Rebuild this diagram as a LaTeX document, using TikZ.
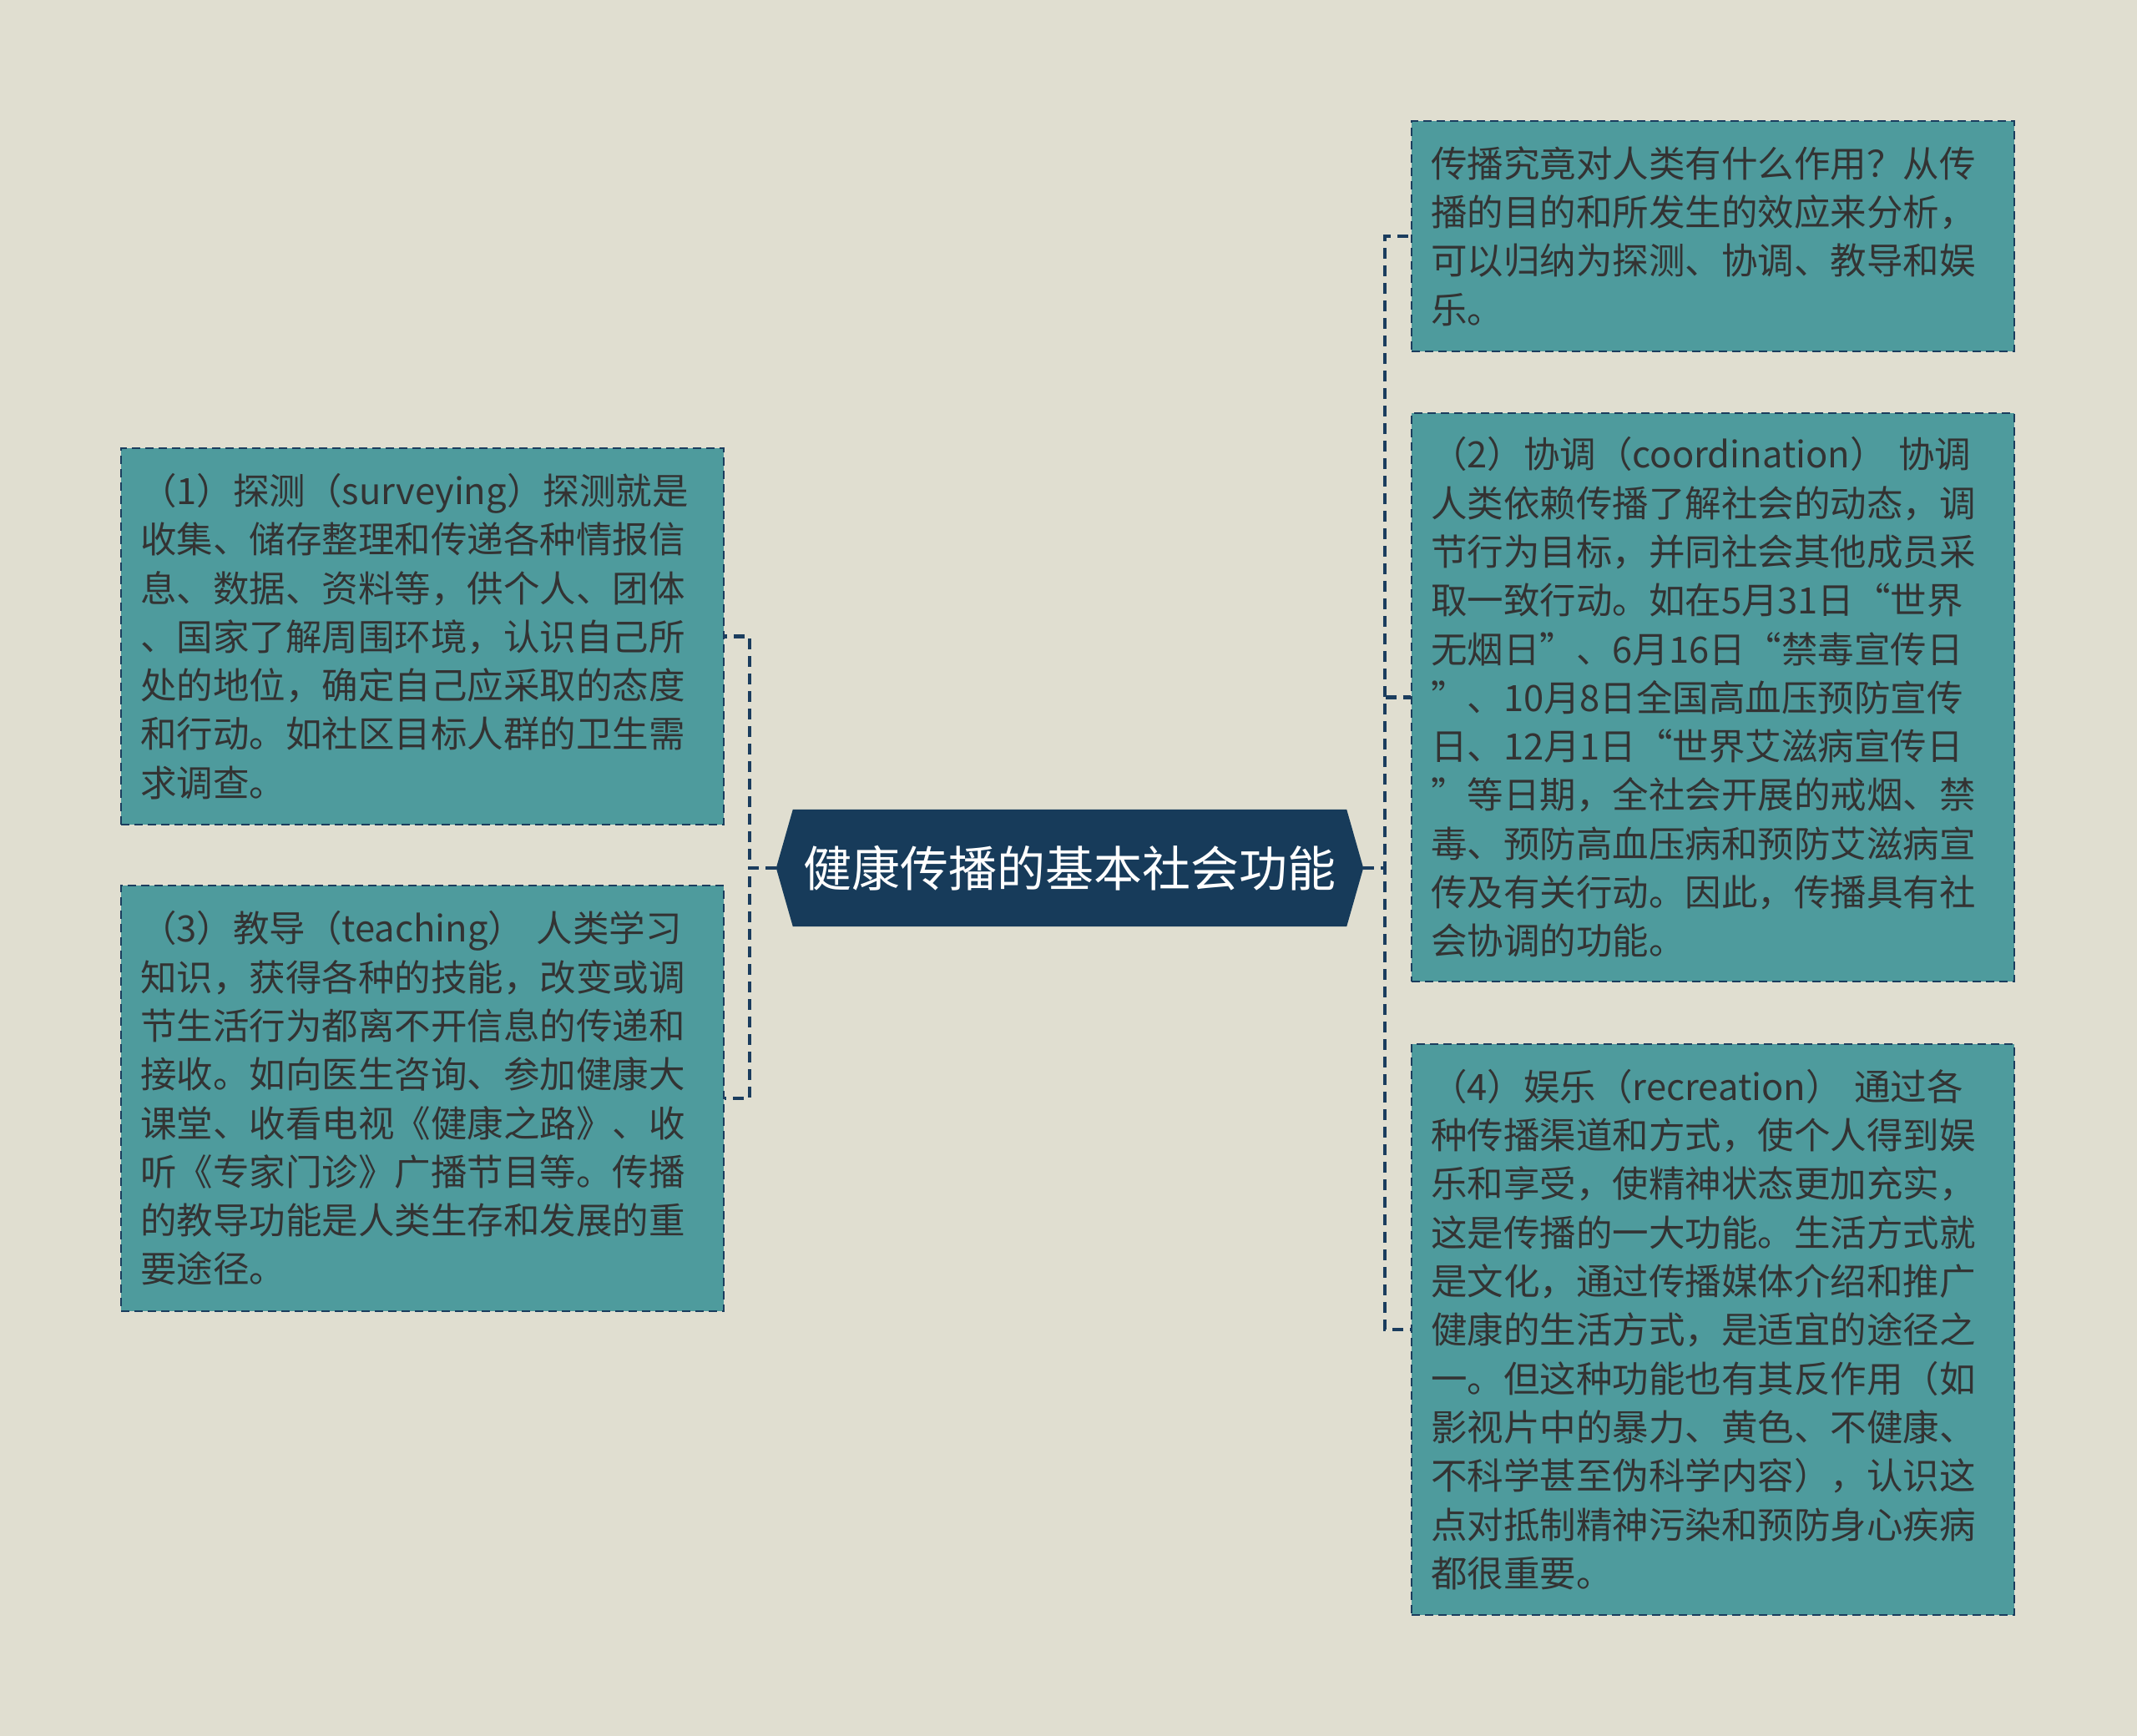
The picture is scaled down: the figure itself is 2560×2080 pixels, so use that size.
\documentclass[tikz,border=0pt]{standalone}
\usepackage{fontspec}
\setmainfont{Noto Sans CJK SC}
\usetikzlibrary{backgrounds}
\definecolor{bgc}{HTML}{E0DED0}
\definecolor{boxfill}{HTML}{4E9B9D}
\definecolor{navy}{HTML}{1B3D5E}
\definecolor{cfill}{HTML}{173B5A}
\definecolor{txt}{HTML}{333333}
\tikzset{
  infobox/.style={draw=navy, line width=2.5pt, dash pattern=on 10pt off 6pt, fill=boxfill,
    text=txt, align=left, inner xsep=23pt, inner ysep=0pt, text width=676pt,
    minimum width=722pt, font=\fontsize{43.5}{58.3}\selectfont},
  conn/.style={draw=navy, line width=4.5pt, dash pattern=on 13pt off 8pt},
}
\begin{document}
\begin{tikzpicture}[x=1pt,y=-1pt]
\useasboundingbox (0,0) rectangle (2560,2080);
\begin{scope}[on background layer]
\fill[bgc] (0,0) rectangle (2560,2080);
\end{scope}

\node[inner sep=0pt, minimum width=703pt, minimum height=140pt] (c) at (1281.5,1040) {};
\fill[cfill] ([xshift=20pt]c.north west) -- ([xshift=-20pt]c.north east) -- (c.east)
  -- ([xshift=-20pt]c.south east) -- ([xshift=20pt]c.south west) -- (c.west) -- cycle;
\node[text=white, font=\fontsize{58}{70}\selectfont] (ct) at (c.center) {健康传播的基本社会功能};

\node[infobox, minimum height=451pt] (l1) at (506,762.5) {（1）探测（surveying）探测就是\\收集、储存整理和传递各种情报信\\息、数据、资料等，供个人、团体\\、国家了解周围环境，认识自己所\\处的地位，确定自己应采取的态度\\和行动。如社区目标人群的卫生需\\求调查。};

\node[infobox, minimum height=510pt] (l2) at (506,1316) {（3）教导（teaching） 人类学习\\知识，获得各种的技能，改变或调\\节生活行为都离不开信息的传递和\\接收。如向医生咨询、参加健康大\\课堂、收看电视《健康之路》、收\\听《专家门诊》广播节目等。传播\\的教导功能是人类生存和发展的重\\要途径。};

\node[infobox, minimum height=276pt] (r1) at (2052,283) {传播究竟对人类有什么作用？从传\\播的目的和所发生的效应来分析，\\可以归纳为探测、协调、教导和娱\\乐。};

\node[infobox, minimum height=681pt] (r2) at (2052,835.5) {（2）协调（coordination） 协调\\人类依赖传播了解社会的动态，调\\节行为目标，并同社会其他成员采\\取一致行动。如在5月31日“世界\\无烟日”、6月16日“禁毒宣传日\\”、10月8日全国高血压预防宣传\\日、12月1日“世界艾滋病宣传日\\”等日期，全社会开展的戒烟、禁\\毒、预防高血压病和预防艾滋病宣\\传及有关行动。因此，传播具有社\\会协调的功能。};

\node[infobox, minimum height=684pt] (r3) at (2052,1593) {（4）娱乐（recreation） 通过各\\种传播渠道和方式，使个人得到娱\\乐和享受，使精神状态更加充实，\\这是传播的一大功能。生活方式就\\是文化，通过传播媒体介绍和推广\\健康的生活方式，是适宜的途径之\\一。但这种功能也有其反作用（如\\影视片中的暴力、黄色、不健康、\\不科学甚至伪科学内容），认识这\\点对抵制精神污染和预防身心疾病\\都很重要。};

\draw[conn] (c.west) -- ++(-32,0) |- (l1.east);
\draw[conn] (c.west) -- ++(-32,0) |- (l2.east);
\draw[conn] (c.east) -- ++(26,0) |- (r1.west);
\draw[conn] (c.east) -- ++(26,0) |- (r2.west);
\draw[conn] (c.east) -- ++(26,0) |- (r3.west);
\end{tikzpicture}
\end{document}
